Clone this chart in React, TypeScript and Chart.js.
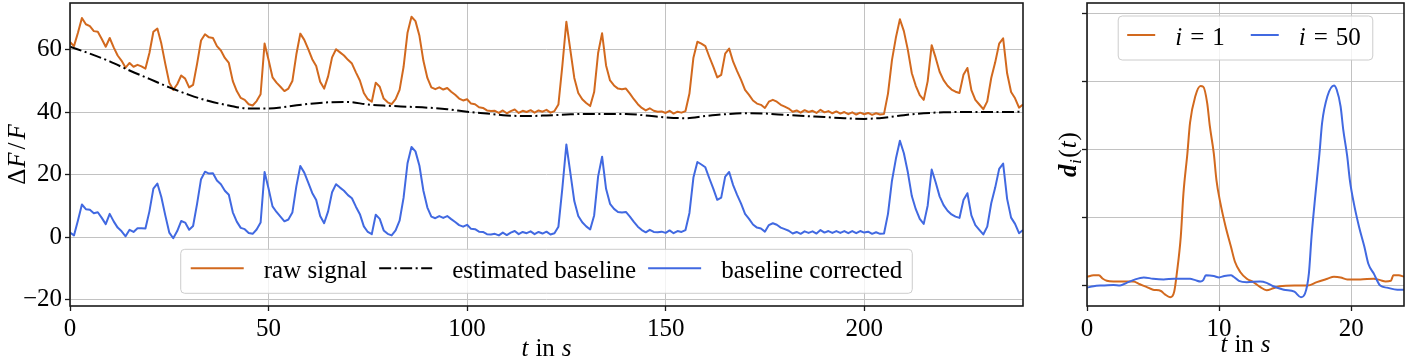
import React, { useEffect, useRef } from 'react';
import { Chart, registerables } from 'chart.js';

Chart.register(...registerables);

// ---------------- data ----------------
const FONT = 'Liberation Serif';
const ORANGE = '#d2691e';
const BLUE = '#4169e1';
const GRID = '#c2c2c2';

// left panel: one sample per second, t = 0 ... 240 s
const SAMPLE_STEP_S = 1;
const RAW_SIGNAL = [
  62.5, 61.2, 65.5, 70.2, 68.2, 67.6, 66.0, 65.8, 63.5, 61.0,
  63.8, 60.8, 58.2, 56.5, 54.3, 55.8, 54.6, 55.2, 54.7, 54.0,
  59.0, 65.8, 66.8, 62.0, 55.5, 49.5, 47.2, 49.0, 51.8, 50.8,
  48.0, 48.8, 55.5, 63.0, 65.0, 64.0, 63.8, 61.2, 59.8, 57.4,
  55.8, 50.0, 46.8, 44.6, 44.0, 42.6, 42.2, 43.6, 45.8, 62.0,
  56.8, 51.2, 49.5, 48.2, 46.8, 47.6, 50.0, 58.5, 65.2, 63.2,
  60.2, 57.0, 54.8, 49.8, 47.6, 51.5, 57.6, 60.2, 59.2, 58.2,
  56.8, 55.6, 52.8, 50.2, 46.2, 44.2, 43.4, 49.5, 48.2, 44.4,
  43.2, 42.6, 44.2, 47.2, 54.5, 65.5, 70.6, 69.2, 64.5, 56.5,
  51.0, 48.0, 47.4, 48.0, 47.3, 47.8, 46.6, 45.6, 44.4, 43.8,
  44.2, 42.8, 42.6, 41.6, 41.4, 40.6, 40.4, 40.5, 39.8, 40.6,
  39.7, 40.4, 40.9, 39.8, 40.5, 40.1, 40.7, 39.9, 40.6, 40.2,
  40.8, 39.9, 40.4, 42.5, 55.0, 69.0, 60.0, 51.0, 46.2, 44.2,
  43.0, 42.0, 46.5, 59.0, 65.3, 55.0, 50.2, 48.6, 47.6, 47.4,
  47.6, 46.0, 44.2, 42.6, 41.4, 40.6, 41.3, 40.5, 40.2, 40.3,
  39.8, 40.5, 39.6, 40.2, 39.9, 40.4, 46.0, 57.5, 62.6, 62.0,
  61.2, 57.8, 54.6, 51.2, 52.0, 58.8, 60.4, 56.2, 53.2, 50.4,
  47.2, 45.6, 43.8, 42.8, 42.4, 41.4, 43.4, 44.0, 43.4, 42.4,
  41.8, 41.2, 40.2, 40.6, 39.9, 40.7, 40.1, 40.5, 39.8, 40.8,
  40.0, 40.4, 39.7, 40.3, 39.6, 40.1, 39.4, 40.0, 39.3, 39.9,
  39.4, 39.8, 39.2, 39.7, 39.3, 39.5, 46.0, 56.7, 64.0, 69.8,
  66.0, 60.0, 52.5, 48.5, 45.5, 44.0, 50.0, 61.5, 57.5, 53.0,
  50.3, 48.5, 47.3, 46.6, 46.2, 52.0, 54.2, 47.1, 44.0, 42.5,
  41.0, 43.5, 51.0, 56.0, 62.0, 63.7, 52.5, 46.5, 44.5, 41.5,
  42.5,
];

const BASELINE_CORRECTED = [
  1.5, 0.6, 5.4, 10.5, 9.0, 8.8, 7.7, 8.0, 6.2, 4.2,
  7.5, 5.1, 3.1, 1.9, 0.3, 2.4, 1.7, 2.9, 2.9, 2.8,
  8.3, 15.6, 17.2, 12.9, 7.0, 1.5, -0.3, 2.0, 5.2, 4.7,
  2.4, 3.6, 10.7, 18.6, 21.0, 20.4, 20.5, 18.2, 17.0, 14.9,
  13.6, 8.0, 5.0, 3.0, 2.6, 1.4, 1.1, 2.5, 4.7, 20.9,
  15.6, 9.9, 8.1, 6.6, 5.1, 5.7, 7.9, 16.3, 22.8, 20.7,
  17.5, 14.2, 11.9, 6.8, 4.5, 8.3, 14.4, 17.0, 15.9, 14.9,
  13.5, 12.5, 9.8, 7.4, 3.5, 1.7, 1.0, 7.2, 5.9, 2.2,
  1.1, 0.6, 2.2, 5.3, 12.6, 23.7, 28.9, 27.5, 22.9, 14.9,
  9.5, 6.6, 6.1, 6.8, 6.2, 6.8, 5.8, 4.9, 3.9, 3.4,
  4.0, 2.7, 2.6, 1.8, 1.7, 1.0, 0.9, 1.1, 0.6, 1.5,
  0.7, 1.5, 2.0, 1.0, 1.7, 1.3, 1.9, 1.0, 1.7, 1.2,
  1.8, 0.9, 1.3, 3.4, 15.8, 29.7, 20.7, 11.6, 6.8, 4.8,
  3.5, 2.5, 7.0, 19.5, 25.8, 15.5, 10.7, 9.1, 8.1, 7.9,
  8.1, 6.6, 4.9, 3.4, 2.3, 1.6, 2.4, 1.7, 1.6, 1.8,
  1.4, 2.2, 1.3, 2.0, 1.7, 2.3, 7.8, 19.1, 24.1, 23.3,
  22.4, 18.9, 15.6, 12.0, 12.7, 19.4, 20.9, 16.7, 13.6, 10.8,
  7.5, 5.9, 4.1, 3.1, 2.8, 1.8, 3.9, 4.5, 4.0, 3.1,
  2.6, 2.1, 1.2, 1.7, 1.1, 1.9, 1.4, 1.9, 1.2, 2.3,
  1.5, 2.0, 1.4, 2.0, 1.4, 2.0, 1.3, 2.0, 1.3, 2.0,
  1.5, 1.8, 1.1, 1.6, 1.1, 1.2, 7.5, 18.1, 25.2, 30.9,
  26.9, 20.8, 13.2, 9.0, 5.9, 4.3, 10.2, 21.7, 17.6, 13.1,
  10.3, 8.5, 7.3, 6.6, 6.2, 11.9, 14.1, 7.0, 3.9, 2.4,
  0.9, 3.4, 10.9, 15.9, 21.9, 23.6, 12.3, 6.3, 4.3, 1.3,
  2.3,
];

// estimated baseline, one knot every 5 s
const BASELINE_STEP_S = 5;
const ESTIMATED_BASELINE = [
  61.0, 58.8, 56.3, 53.4, 50.7, 48.0, 45.6, 43.6, 42.2, 41.2,
  41.2, 41.9, 42.7, 43.2, 43.3, 42.5, 42.1, 41.8, 41.5, 41.0,
  40.2, 39.6, 39.0, 38.8, 39.0, 39.3, 39.5, 39.5, 39.5, 39.0,
  38.4, 38.1, 38.8, 39.4, 39.7, 39.6, 39.2, 38.8, 38.5, 38.1,
  37.9, 38.3, 39.1, 39.7, 40.0, 40.1, 40.1, 40.1, 40.2,
];

// right panel
const T_D1 = [
  0, 0.5, 0.9, 1.2, 1.5, 2, 3, 3.5, 4, 4.5,
  5, 5.6, 5.9, 6.3, 6.6, 6.8, 7.1, 7.3, 7.6, 7.8,
  8.2, 8.6, 8.8, 9.1, 9.3, 9.6, 9.8, 10.1, 10.5, 10.9,
  11.2, 11.6, 12.1, 12.6, 13.1, 13.6, 14.1, 14.6, 15.7, 16.7,
  17.4, 18.2, 18.7, 19.2, 19.7, 20.7, 21.7, 22.2, 22.6, 23.0,
  23.2, 23.6, 24,
];
const D1 = [
  0.13, 0.15, 0.15, 0.10, 0.07, 0.06, 0.06, 0.06, 0.02, -0.02,
  -0.06, -0.08, -0.13, -0.17, -0.09, 0.18, 0.72, 1.35, 1.94, 2.39,
  2.78, 2.93, 2.92, 2.68, 2.34, 1.94, 1.55, 1.21, 0.86, 0.57,
  0.35, 0.20, 0.10, 0.05, -0.02, -0.07, -0.04, -0.01, 0.00, 0.00,
  0.05, 0.10, 0.13, 0.12, 0.09, 0.09, 0.10, 0.08, 0.06, 0.07,
  0.15, 0.15, 0.13,
];
const T_D50 = [
  0, 0.5, 1, 2, 2.5, 3, 3.5, 4.3, 5, 5.8,
  6.6, 7.1, 7.8, 8.2, 8.6, 8.8, 9.0, 9.6, 10, 10.4,
  10.9, 11.1, 11.5, 12.1, 13.1, 13.6, 14.1, 14.9, 15.7, 16.2,
  16.5, 16.8, 17.0, 17.3, 17.6, 17.8, 18.2, 18.7, 18.9, 19.2,
  19.4, 19.7, 19.9, 20.2, 20.6, 21.0, 21.3, 21.7, 22.2, 22.7,
  23.5, 24,
];
const D50 = [
  -0.03, -0.01, 0.00, 0.01, 0.00, 0.04, 0.08, 0.12, 0.10, 0.09,
  0.10, 0.10, 0.10, 0.08, 0.06, 0.08, 0.15, 0.14, 0.12, 0.14,
  0.15, 0.13, 0.07, 0.05, 0.06, 0.04, -0.01, -0.06, -0.09, -0.17,
  -0.12, 0.18, 0.72, 1.35, 1.94, 2.39, 2.78, 2.94, 2.88, 2.63,
  2.29, 1.90, 1.55, 1.21, 0.86, 0.57, 0.32, 0.18, 0.00, -0.03,
  -0.06, -0.06,
];

const LEFT_X_TICKS = [0, 50, 100, 150, 200];
const LEFT_Y_TICKS = [-20, 0, 20, 40, 60];
const RIGHT_X_TICKS = [0, 10, 20];
const RIGHT_Y_TICKS = [0, 1, 2, 3, 4];

const LEFT_LABELS = ['raw signal', 'estimated baseline', 'baseline corrected'];

// ---------------- helpers ----------------
const R = (s: number) => `${s}px "${FONT}"`;
const I = (s: number) => `italic ${s}px "${FONT}"`;
const BI = (s: number) => `italic bold ${s}px "${FONT}"`;
const DASHDOT = [12, 3.5, 2, 3.5];

type Part = { t: string; f: string; dy?: number; gap?: number };

function richWidth(ctx: CanvasRenderingContext2D, parts: Part[]) {
  let w = 0;
  for (const p of parts) {
    ctx.font = p.f;
    w += ctx.measureText(p.t).width + (p.gap || 0);
  }
  return w;
}
function drawRich(ctx: CanvasRenderingContext2D, parts: Part[], x: number, y: number) {
  let cx = x;
  for (const p of parts) {
    ctx.font = p.f;
    ctx.fillText(p.t, cx, y + (p.dy || 0));
    cx += ctx.measureText(p.t).width + (p.gap || 0);
  }
}
function drawRichCentered(ctx: CanvasRenderingContext2D, parts: Part[], cx: number, y: number) {
  const w = richWidth(ctx, parts);
  drawRich(ctx, parts, cx - w / 2, y);
}
function legendFrame(ctx: CanvasRenderingContext2D, x: number, y: number, w: number, h: number) {
  ctx.save();
  ctx.beginPath();
  (ctx as any).roundRect(x, y, w, h, 4);
  ctx.fillStyle = 'rgba(255,255,255,0.8)';
  ctx.fill();
  ctx.strokeStyle = '#cccccc';
  ctx.lineWidth = 1;
  ctx.stroke();
  ctx.restore();
}
function drawFrame(chart: any) {
  const { ctx, chartArea: ca } = chart;
  ctx.save();
  ctx.strokeStyle = '#1a1a1a';
  ctx.lineWidth = 1.6;
  ctx.strokeRect(Math.round(ca.left), Math.round(ca.top), Math.round(ca.right - ca.left), Math.round(ca.bottom - ca.top));
  ctx.restore();
}
function handle(ctx: CanvasRenderingContext2D, x0: number, x1: number, y: number, color: string, dash: number[]) {
  ctx.save();
  ctx.strokeStyle = color;
  ctx.lineWidth = 2;
  ctx.setLineDash(dash);
  ctx.beginPath();
  ctx.moveTo(x0, y);
  ctx.lineTo(x1, y);
  ctx.stroke();
  ctx.restore();
}

const leftDecor = {
  id: 'leftDecor',
  afterDatasetsDraw(chart: any) {
    const { ctx, chartArea: ca } = chart;
    drawFrame(chart);
    // legend
    ctx.save();
    ctx.font = R(25);
    const tw = LEFT_LABELS.map((l) => ctx.measureText(l).width);
    const pad = 10, hl = 53, hg = 20, cg = 12;
    const W = pad * 2 + 3 * (hl + hg) + 2 * cg + tw[0] + tw[1] + tw[2];
    const H = 44;
    const bx = (ca.left + ca.right) / 2 - W / 2;
    const by = ca.bottom - 12.7 - H;
    legendFrame(ctx, bx, by, W, H);
    const colors = [ORANGE, '#000', BLUE];
    const dashes = [[], DASHDOT, []];
    let x = bx + pad;
    for (let i = 0; i < 3; i++) {
      handle(ctx, x, x + hl, by + 19, colors[i], dashes[i]);
      x += hl + hg;
      ctx.fillStyle = '#000';
      ctx.font = R(25);
      ctx.textBaseline = 'alphabetic';
      ctx.textAlign = 'left';
      ctx.fillText(LEFT_LABELS[i], x, by + 29);
      x += tw[i] + cg;
    }
    ctx.restore();
  },
  afterDraw(chart: any) {
    const { ctx, chartArea: ca } = chart;
    ctx.save();
    ctx.fillStyle = '#000';
    ctx.textBaseline = 'alphabetic';
    ctx.textAlign = 'left';
    drawRichCentered(ctx, [
      { t: 't', f: I(25), gap: 7 },
      { t: 'in', f: R(25), gap: 7 },
      { t: 's', f: I(25) },
    ], (ca.left + ca.right) / 2, 356);
    ctx.translate(25, (ca.top + ca.bottom) / 2);
    ctx.rotate(-Math.PI / 2);
    drawRichCentered(ctx, [
      { t: 'Δ', f: R(25), gap: 1 },
      { t: 'F', f: I(25), gap: 3 },
      { t: '/', f: R(25), gap: 3 },
      { t: 'F', f: I(25) },
    ], 0, 0);
    ctx.restore();
  },
};

const rightDecor = {
  id: 'rightDecor',
  afterDatasetsDraw(chart: any) {
    const { ctx, chartArea: ca } = chart;
    drawFrame(chart);
    ctx.save();
    const p1: Part[] = [
      { t: 'i', f: I(25), gap: 8 },
      { t: '=', f: R(25), gap: 8 },
      { t: '1', f: R(25) },
    ];
    const p2: Part[] = [
      { t: 'i', f: I(25), gap: 8 },
      { t: '=', f: R(25), gap: 8 },
      { t: '50', f: R(25) },
    ];
    const w1 = richWidth(ctx, p1), w2 = richWidth(ctx, p2);
    const padL = 9, padR = 12, hl = 28, hg = 20, cg = 26;
    const W = padL + hl + hg + w1 + cg + hl + hg + w2 + padR;
    const H = 44;
    const bx = (ca.left + ca.right) / 2 - W / 2;
    const by = ca.top + 13;
    legendFrame(ctx, bx, by, W, H);
    ctx.fillStyle = '#000';
    ctx.textBaseline = 'alphabetic';
    ctx.textAlign = 'left';
    let x = bx + padL;
    handle(ctx, x, x + hl, by + 19, ORANGE, []);
    x += hl + hg;
    drawRich(ctx, p1, x, by + 29);
    x += w1 + cg;
    handle(ctx, x, x + hl, by + 19, BLUE, []);
    x += hl + hg;
    drawRich(ctx, p2, x, by + 29);
    ctx.restore();
  },
  afterDraw(chart: any) {
    const { ctx, chartArea: ca } = chart;
    ctx.save();
    ctx.fillStyle = '#000';
    ctx.textBaseline = 'alphabetic';
    ctx.textAlign = 'left';
    drawRichCentered(ctx, [
      { t: 't', f: I(25), gap: 7 },
      { t: 'in', f: R(25), gap: 7 },
      { t: 's', f: I(25) },
    ], (ca.left + ca.right) / 2, 352);
    ctx.translate(36, (ca.top + ca.bottom) / 2);
    ctx.rotate(-Math.PI / 2);
    drawRichCentered(ctx, [
      { t: 'd', f: BI(25), gap: 0.5 },
      { t: 'i', f: I(17), dy: 5, gap: 1.5 },
      { t: '(', f: R(25), gap: 1 },
      { t: 't', f: I(25), gap: 1 },
      { t: ')', f: R(25) },
    ], 0, 0);
    ctx.restore();
  },
};

function axis(min: number, max: number, ticks: number[], size: number, horizontal: boolean, showLabels: boolean) {
  return {
    type: 'linear' as const,
    min,
    max,
    border: { display: false },
    grid: {
      color: GRID,
      lineWidth: 1,
      drawTicks: true,
      tickLength: 5,
      tickColor: '#1a1a1a',
      tickWidth: 1.3,
    },
    ticks: {
      includeBounds: false,
      autoSkip: false,
      maxRotation: 0,
      padding: 3,
      color: '#000',
      font: { family: FONT, size: 25 },
      callback: (v: any) => (showLabels ? String(v).replace('-', '\u2212') : ''),
    },
    afterBuildTicks: (s: any) => {
      s.ticks = ticks.map((v) => ({ value: v }));
    },
    afterFit: (s: any) => {
      if (horizontal) s.height = size;
      else s.width = size;
      s.paddingTop = 0;
      s.paddingBottom = 0;
      s.paddingLeft = 0;
      s.paddingRight = 0;
    },
  };
}

export default function App() {
  const leftRef = useRef<HTMLCanvasElement>(null);
  const rightRef = useRef<HTMLCanvasElement>(null);

  useEffect(() => {
    Chart.defaults.font.family = FONT;
    const rawPts = RAW_SIGNAL.map((v, i) => ({ x: i * SAMPLE_STEP_S, y: v }));
    const corPts = BASELINE_CORRECTED.map((v, i) => ({ x: i * SAMPLE_STEP_S, y: v }));
    const basePts = ESTIMATED_BASELINE.map((v, i) => ({ x: i * BASELINE_STEP_S, y: v }));

    const left = new Chart(leftRef.current!, {
      type: 'line',
      data: {
        datasets: [
          { label: LEFT_LABELS[0], data: rawPts, borderColor: ORANGE, borderWidth: 2, pointRadius: 0, tension: 0, order: 1, borderJoinStyle: 'round' },
          { label: LEFT_LABELS[1], data: basePts, borderColor: '#000', borderWidth: 2, pointRadius: 0, borderDash: DASHDOT, cubicInterpolationMode: 'monotone', order: 0 },
          { label: LEFT_LABELS[2], data: corPts, borderColor: BLUE, borderWidth: 2, pointRadius: 0, tension: 0, order: 2, borderJoinStyle: 'round' },
        ],
      } as any,
      options: {
        responsive: false,
        animation: false,
        devicePixelRatio: 1,
        layout: { padding: { left: 0, right: 17, top: 3, bottom: 0 }, autoPadding: false },
        plugins: { legend: { display: false }, tooltip: { enabled: false } },
        events: [],
        scales: {
          x: axis(0, 240, LEFT_X_TICKS, 56, true, true),
          y: axis(-22, 75, LEFT_Y_TICKS, 70, false, true),
        },
      } as any,
      plugins: [leftDecor],
    });

    const right = new Chart(rightRef.current!, {
      type: 'line',
      data: {
        datasets: [
          { label: 'i = 1', data: D1.map((v, i) => ({ x: T_D1[i], y: v })), borderColor: ORANGE, borderWidth: 2, pointRadius: 0, cubicInterpolationMode: 'monotone', order: 1 },
          { label: 'i = 50', data: D50.map((v, i) => ({ x: T_D50[i], y: v })), borderColor: BLUE, borderWidth: 2, pointRadius: 0, cubicInterpolationMode: 'monotone', order: 0 },
        ],
      } as any,
      options: {
        responsive: false,
        animation: false,
        devicePixelRatio: 1,
        layout: { padding: { left: 0, right: 8, top: 3, bottom: 0 }, autoPadding: false },
        plugins: { legend: { display: false }, tooltip: { enabled: false } },
        events: [],
        scales: {
          x: axis(0, 24, RIGHT_X_TICKS, 56, true, true),
          y: axis(-0.3, 4.15, RIGHT_Y_TICKS, 47, false, false),
        },
      } as any,
      plugins: [rightDecor],
    });

    return () => {
      left.destroy();
      right.destroy();
    };
  }, []);

  return (
    <div style={{ position: 'absolute', left: 0, top: 0, width: 1412, height: 362, background: '#fff' }}>
      <canvas ref={leftRef} width={1040} height={362} style={{ position: 'absolute', left: 0, top: 0, width: 1040, height: 362 }} />
      <canvas ref={rightRef} width={372} height={362} style={{ position: 'absolute', left: 1040, top: 0, width: 372, height: 362 }} />
    </div>
  );
}
